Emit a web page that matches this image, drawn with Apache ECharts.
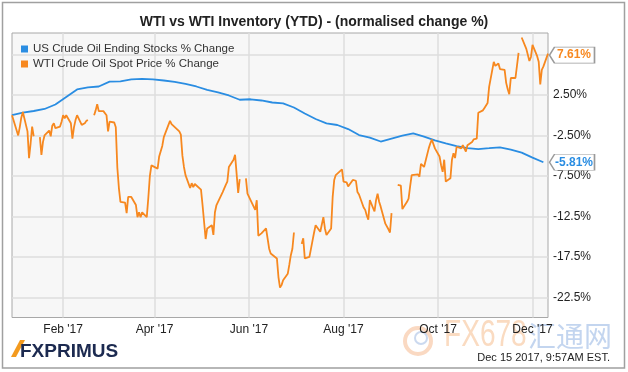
<!DOCTYPE html>
<html><head><meta charset="utf-8">
<script src="https://cdn.jsdelivr.net/npm/echarts@6/dist/echarts.min.js"></script>
<style>html,body{margin:0;padding:0;background:#fff}#c{width:628px;height:372px}</style>
</head><body><div id="c"></div>
<script>
const chartTitle = 'WTI vs WTI Inventory (YTD) - (normalised change %)';
const seriesNames = ['US Crude Oil Ending Stocks % Change', 'WTI Crude Oil Spot Price % Change'];
const xRange = ['2016-12-30', '2017-12-11'];
const yRange = [-25, 10.16];
const xTickDates = ['2017-02-01', '2017-04-01', '2017-06-01', '2017-08-01', '2017-10-01', '2017-12-01'];
const yGridValues = [-22.5, -17.5, -12.5, -7.5, -2.5, 2.5, 7.5];
const yLabelValues = [-22.5, -17.5, -12.5, -7.5, -2.5, 2.5];
const monthNames = ['Jan','Feb','Mar','Apr','May','Jun','Jul','Aug','Sep','Oct','Nov','Dec'];
const timestampText = 'Dec 15 2017, 9:57AM EST.';

const stockDates = ['2016-12-30','2017-01-06','2017-01-13','2017-01-20','2017-01-27','2017-02-03','2017-02-10','2017-02-17','2017-02-24',
 '2017-03-03','2017-03-10','2017-03-17','2017-03-24','2017-03-31','2017-04-07','2017-04-14','2017-04-21','2017-04-28',
 '2017-05-05','2017-05-12','2017-05-19','2017-05-26','2017-06-02','2017-06-09','2017-06-16','2017-06-23','2017-06-30',
 '2017-07-07','2017-07-14','2017-07-21','2017-07-28','2017-08-04','2017-08-11','2017-08-18','2017-08-25','2017-09-01',
 '2017-09-08','2017-09-15','2017-09-22','2017-09-29','2017-10-06','2017-10-13','2017-10-20','2017-10-27','2017-11-03',
 '2017-11-10','2017-11-17','2017-11-24','2017-12-01','2017-12-08'];
const stockValues = [0, 0.33, 0.52, 0.77, 1.32, 2.25, 3.18, 3.43, 3.55,
 4.15, 4.17, 4.42, 4.48, 4.42, 4.29, 4.13, 3.86, 3.55,
 3.12, 2.81, 2.44, 1.91, 1.97, 1.82, 1.57, 1.47, 0.95,
 0.21, -0.47, -1.0, -1.21, -1.71, -2.45, -2.76, -3.25, -2.88,
 -2.51, -2.24, -2.64, -3.11, -3.48, -3.81, -4.06, -4.18, -4.08,
 -3.97, -4.25, -4.62, -5.24, -5.81];

const oilDates = ['2016-12-30','2017-01-03','2017-01-04','2017-01-05','2017-01-06','2017-01-09','2017-01-10','2017-01-11','2017-01-12','2017-01-13',
 '2017-01-16','2017-01-17','2017-01-18','2017-01-19','2017-01-20','2017-01-23','2017-01-24','2017-01-25','2017-01-26','2017-01-27',
 '2017-01-30','2017-01-31','2017-02-01','2017-02-02','2017-02-03','2017-02-06','2017-02-07','2017-02-08','2017-02-09','2017-02-10',
 '2017-02-13','2017-02-14','2017-02-15','2017-02-16','2017-02-17','2017-02-20','2017-02-21','2017-02-22','2017-02-23','2017-02-24',
 '2017-02-27','2017-02-28','2017-03-01','2017-03-02','2017-03-03','2017-03-06','2017-03-07','2017-03-08','2017-03-09','2017-03-10',
 '2017-03-13','2017-03-14','2017-03-15','2017-03-16','2017-03-17','2017-03-20','2017-03-21','2017-03-22','2017-03-23','2017-03-24',
 '2017-03-27','2017-03-28','2017-03-29','2017-03-30','2017-03-31','2017-04-03','2017-04-04','2017-04-05','2017-04-06','2017-04-07',
 '2017-04-10','2017-04-11','2017-04-12','2017-04-13','2017-04-17','2017-04-18','2017-04-19','2017-04-20','2017-04-21',
 '2017-04-24','2017-04-25','2017-04-26','2017-04-27','2017-04-28','2017-05-01','2017-05-02','2017-05-03','2017-05-04','2017-05-05',
 '2017-05-08','2017-05-09','2017-05-10','2017-05-11','2017-05-12','2017-05-15','2017-05-16','2017-05-17','2017-05-18','2017-05-19',
 '2017-05-22','2017-05-23','2017-05-24','2017-05-25','2017-05-26','2017-05-29','2017-05-30','2017-05-31','2017-06-01','2017-06-02',
 '2017-06-05','2017-06-06','2017-06-07','2017-06-08','2017-06-09','2017-06-12','2017-06-13','2017-06-14','2017-06-15','2017-06-16',
 '2017-06-19','2017-06-20','2017-06-21','2017-06-22','2017-06-23','2017-06-26','2017-06-27','2017-06-28','2017-06-29','2017-06-30',
 '2017-07-03','2017-07-05','2017-07-06','2017-07-07','2017-07-10','2017-07-11','2017-07-12','2017-07-13','2017-07-14',
 '2017-07-17','2017-07-18','2017-07-19','2017-07-20','2017-07-21','2017-07-24','2017-07-25','2017-07-26','2017-07-27','2017-07-28',
 '2017-07-31','2017-08-01','2017-08-02','2017-08-03','2017-08-04','2017-08-07','2017-08-08','2017-08-09','2017-08-10','2017-08-11',
 '2017-08-14','2017-08-15','2017-08-16','2017-08-17','2017-08-18','2017-08-21','2017-08-22','2017-08-23','2017-08-24','2017-08-25',
 '2017-08-28','2017-08-29','2017-08-30','2017-08-31','2017-09-01','2017-09-04','2017-09-05','2017-09-06','2017-09-07','2017-09-08',
 '2017-09-11','2017-09-12','2017-09-13','2017-09-14','2017-09-15','2017-09-18','2017-09-19','2017-09-20','2017-09-21','2017-09-22',
 '2017-09-25','2017-09-26','2017-09-27','2017-09-28','2017-09-29','2017-10-02','2017-10-03','2017-10-04','2017-10-05','2017-10-06',
 '2017-10-09','2017-10-10','2017-10-11','2017-10-12','2017-10-13','2017-10-16','2017-10-17','2017-10-18','2017-10-19','2017-10-20',
 '2017-10-23','2017-10-24','2017-10-25','2017-10-26','2017-10-27','2017-10-30','2017-10-31','2017-11-01','2017-11-02','2017-11-03',
 '2017-11-06','2017-11-07','2017-11-08','2017-11-09','2017-11-10','2017-11-13','2017-11-14','2017-11-15','2017-11-16','2017-11-17',
 '2017-11-20','2017-11-21','2017-11-22','2017-11-23','2017-11-24','2017-11-27','2017-11-28','2017-11-29','2017-11-30','2017-12-01',
 '2017-12-04','2017-12-05','2017-12-06','2017-12-07','2017-12-08','2017-12-11'];
const oilValues = [0, -2.5, -1.5, -0.3, 0.4, -2.0, -5.3, -3.5, -1.4, -2.6,
 null, -2.7, -4.9, -3.3, -2.5, -1.9, -2.6, -1.3, -1.0, -1.6,
 -1.4, -0.8, 0.0, -0.4, 0.0, -1.0, -2.9, -1.5, -0.6, 0.0,
 -1.2, -1.1, -1.0, -0.7, -0.6, null, 0.0, 0.6, 1.35, 0.5,
 0.5, 0.4, 0.0, -2.0, -0.8, -0.9, -1.5, -6.5, -9.0, -10.7,
 -10.8, -12.1, -10.1, -10.0, -10.1, -11.1, -12.6, -12.0, -12.6, -12.0,
 -12.6, -10.2, -7.5, -6.2, -6.0, -6.6, -5.1, -4.9, -3.8, -2.7,
 -1.2, -0.7, -1.1, -1.2, -2.0, -2.4, -5.0, -6.4, -7.4,
 -9.0, -8.4, -8.9, -8.5, -8.3, -9.2, -11.1, -11.1, -15.3, -14.0,
 -13.6, -14.8, -12.0, -11.1, -11.0, -9.5, -9.5, -8.6, -8.2, -6.4,
 -5.5, -4.9, -5.1, -9.6, -7.9, null, -7.8, -9.7, -10.1, -10.3,
 -11.7, -10.5, -14.9, -15.0, -14.6, -14.0, -13.8, -16.5, -17.1, -17.3,
 -17.7, -20.0, -21.3, -21.0, -20.4, -19.6, -18.5, -17.3, -16.5, -14.5,
 null, -15.9, -15.2, -17.7, -17.5, -17.3, -15.5, -14.5, -13.6,
 -14.4, -13.5, -12.6, -14.0, -14.8, -14.0, -10.1, -8.0, -7.4, -7.3,
 -6.7, -8.2, -8.0, -8.3, -8.8, -8.0, -8.0, -8.1, -9.5, -9.8,
 -11.4, -11.7, -12.4, -12.9, -10.5, -11.9, -10.5, -9.7, -10.7, -11.3,
 -13.4, -13.6, -14.1, -14.5, -12.1, null, -8.6, -8.6, -8.7, -11.6,
 -10.7, -10.3, -8.8, -7.4, -7.2, -7.3, -7.6, -6.0, -5.9, -6.4,
 -4.1, -3.5, -3.0, -3.0, -4.1, -5.1, -6.2, -7.0, -5.5, -8.2,
 -7.8, -5.5, -4.7, -5.3, -3.9, -4.1, -3.7, -3.5, -4.5, -3.7,
 -3.3, -3.0, -3.2, -2.9, 0.3, 0.6, 0.9, 1.1, 1.5, 3.5,
 6.6, 6.1, 5.9, 6.4, 5.7, 5.6, 4.0, 3.2, 2.6, 4.6,
 4.6, 4.7, 7.7, null, 9.6, 8.2, 8.1, 6.7, 7.2, 8.7,
 7.3, 6.6, 3.8, 5.6, 6.0, 7.61];

const FONT = '"Liberation Sans", Arial, sans-serif';
const BLUE = '#2a8de2';
const ORANGE = '#f7881f';

function toTs(s) { const p = s.split('-').map(Number); return Date.UTC(p[0], p[1] - 1, p[2]); }
const xMin = toTs(xRange[0]), xMax = toTs(xRange[1]);
const xTicks = xTickDates.map(toTs);

function pct(v) { return (Math.abs(v) >= 10 ? v.toFixed(1) : v.toFixed(2)) + '%'; }

const stockData = stockDates.map((d, i) => [toTs(d), stockValues[i]]);
const oilData = oilDates.map((d, i) => [toTs(d), oilValues[i]]);
const lastStock = stockValues[stockValues.length - 1];
const lastOil = oilValues[oilValues.length - 1];

const tagPath = 'path://M0,8L5,0L45,0L45,16L5,16Z';

const chart = echarts.init(document.getElementById('c'), null, { renderer: 'canvas', width: 628, height: 372 });
chart.setOption({
  animation: false,
  backgroundColor: '#ffffff',
  title: {
    text: chartTitle, left: 'center', top: 10,
    textStyle: { fontFamily: FONT, fontSize: 14, fontWeight: 'bold', color: '#222' }
  },
  legend: {
    data: seriesNames, orient: 'vertical', left: 16, top: 38, itemWidth: 7, itemHeight: 7, itemGap: 3,
    icon: 'rect', selectedMode: false,
    textStyle: { fontFamily: FONT, fontSize: 11.5, color: '#333' }
  },
  grid: {
    left: 12, top: 33, width: 536, height: 284.5, show: true,
    backgroundColor: '#f7f7f7', borderColor: '#a8a8a8', borderWidth: 1
  },
  xAxis: {
    type: 'value', min: xMin, max: xMax, scale: true,
    axisLine: { show: false }, axisTick: { show: false, customValues: xTicks },
    splitLine: { show: true, lineStyle: { color: '#dedede', width: 1.5 } },
    axisLabel: {
      customValues: xTicks, margin: 6, color: '#222', fontFamily: FONT, fontSize: 12,
      formatter: v => { const d = new Date(v); return monthNames[d.getUTCMonth()] + " '" + String(d.getUTCFullYear()).slice(2); }
    }
  },
  yAxis: {
    type: 'value', position: 'right', min: yRange[0], max: yRange[1],
    axisLine: { show: false }, axisTick: { show: false, customValues: yGridValues },
    splitLine: { show: true, lineStyle: { color: '#dedede', width: 1.5 } },
    axisLabel: { customValues: yLabelValues, margin: 5, color: '#222', fontFamily: FONT, fontSize: 12, formatter: pct }
  },
  series: [
    {
      name: seriesNames[0], type: 'line', data: stockData, showSymbol: false, symbol: 'none',
      lineStyle: { color: BLUE, width: 1.8 }, itemStyle: { color: BLUE },
      markPoint: {
        symbol: tagPath, symbolSize: [45, 16], symbolOffset: [24, 0], symbolKeepAspect: false,
        itemStyle: { color: '#fff', borderColor: '#9a9a9a', borderWidth: 1 },
        label: { show: true, position: 'inside', offset: [2, 0], color: BLUE, fontWeight: 'bold', fontSize: 12, fontFamily: FONT, formatter: p => pct(p.value) },
        data: [{ coord: [xMax, lastStock], value: lastStock }]
      }
    },
    {
      name: seriesNames[1], type: 'line', data: oilData, showSymbol: false, symbol: 'none', connectNulls: false,
      lineStyle: { color: ORANGE, width: 1.8 }, itemStyle: { color: ORANGE },
      markPoint: {
        symbol: tagPath, symbolSize: [45, 16], symbolOffset: [24, 1.5], symbolKeepAspect: false,
        itemStyle: { color: '#fff', borderColor: '#9a9a9a', borderWidth: 1 },
        label: { show: true, position: 'inside', offset: [2, 0], color: ORANGE, fontWeight: 'bold', fontSize: 12, fontFamily: FONT, formatter: p => pct(p.value) },
        data: [{ coord: [xMax, lastOil], value: lastOil }]
      }
    }
  ],
  graphic: [
    { type: 'rect', shape: { x: 2.5, y: 2.5, width: 622, height: 365.5 }, style: { fill: 'none', stroke: '#a0a0a0', lineWidth: 1.5 }, silent: true, z: 100 },
    { type: 'circle', shape: { cx: 418, cy: 341, r: 13 }, style: { fill: 'none', stroke: 'rgba(245,170,120,0.45)', lineWidth: 4 }, silent: true },
    { type: 'circle', shape: { cx: 421, cy: 338, r: 6 }, style: { fill: 'none', stroke: 'rgba(140,170,220,0.45)', lineWidth: 2 }, silent: true },
    { type: 'text', x: 444, y: 336, scaleX: 0.78, style: { text: 'FX678', fill: 'rgba(248,200,160,0.65)', fontSize: 36, fontFamily: FONT, textVerticalAlign: 'middle' }, silent: true },
    { type: 'text', x: 528, y: 336, style: { text: '汇通网', fill: 'rgba(170,195,232,0.7)', fontSize: 28, fontFamily: '"Noto Sans CJK SC", sans-serif', textVerticalAlign: 'middle' }, silent: true },
    { type: 'polygon', shape: { points: [[11, 357], [20, 340], [25, 340], [16, 357]] }, style: { fill: '#f39a1e' }, silent: true },
    { type: 'text', x: 20, y: 352, style: { text: 'FXPRIMUS', fill: '#1c2a50', fontSize: 19, fontWeight: 'bold', fontFamily: FONT, textVerticalAlign: 'middle' }, silent: true },
    { type: 'text', x: 610, y: 358, style: { text: timestampText, fill: '#222', fontSize: 11, fontFamily: FONT, textAlign: 'right', textVerticalAlign: 'middle' }, silent: true }
  ]
});
</script>
</body></html>
